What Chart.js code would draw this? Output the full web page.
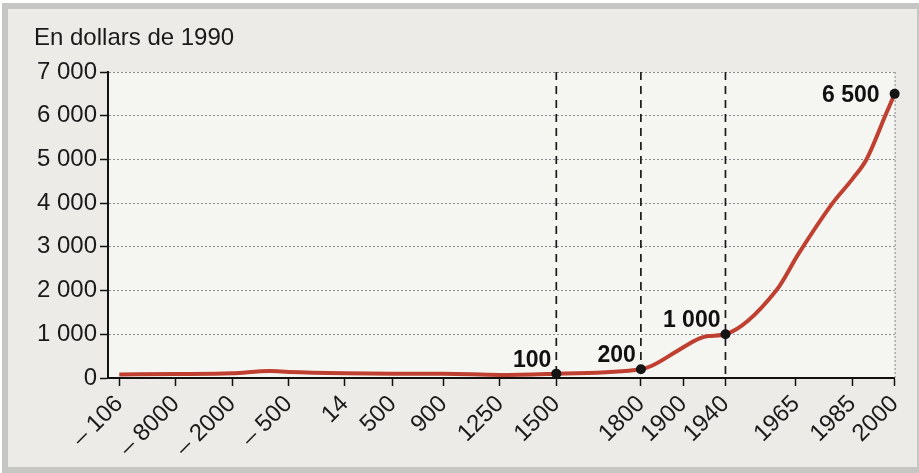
<!DOCTYPE html>
<html>
<head>
<meta charset="utf-8">
<script src="https://cdn.jsdelivr.net/npm/chart.js@4"></script>
<style>
  html, body { margin: 0; padding: 0; background: #fff; }
  #wrap { width: 919px; height: 473px; }
</style>
</head>
<body>
<div id="wrap"><canvas id="chart" width="919" height="473"></canvas></div>
<script>
// axis ticks (years) and their slot on the hand-drawn, uneven x axis
var tickLabels = ['\u2013 106', '\u2013 8000', '\u2013 2000', '\u2013 500', '14', '500', '900', '1250', '1500', '1800', '1900', '1940', '1965', '1985', '2000'];
var tickYears = [-1000000, -8000, -2000, -500, 14, 500, 900, 1250, 1500, 1800, 1900, 1940, 1965, 1985, 2000];
var tickSlots = [0, 1, 2, 3, 4, 4.85, 5.75, 6.75, 7.75, 9.25, 10, 10.75, 12, 13, 13.75];

// PIB par habitant, en dollars de 1990
var years = [-1000000, -8000, -2000, -1000, -500, 14, 500, 900, 1250, 1500, 1800, 1826, 1883, 1915, 1924, 1940, 1958, 1966, 1978, 1985, 1990, 1997, 2000];
var income = [80, 90, 110, 160, 140, 110, 100, 100, 70, 100, 200, 280, 600, 900, 960, 1000, 2000, 2850, 4000, 4550, 5000, 6050, 6500];

// highlighted points
var markYears = [1500, 1800, 1940, 2000];
var markLabels = ['100', '200', '1 000', '6 500'];
var dashedYears = [1500, 1800, 1940];

var yTicks = [0, 1000, 2000, 3000, 4000, 5000, 6000, 7000];

// place a year on the axis between its neighbouring ticks
function slotOf(year) {
    for (var i = 0; i < tickYears.length - 1; i++) {
        if (year >= tickYears[i] && year <= tickYears[i + 1]) {
            var t = (year - tickYears[i]) / (tickYears[i + 1] - tickYears[i]);
            return tickSlots[i] + t * (tickSlots[i + 1] - tickSlots[i]);
        }
    }
    return tickSlots[tickSlots.length - 1];
}

function fmt(v) {
    return String(v).replace(/\B(?=(\d{3})+(?!\d))/g, ' ');
}

var points = years.map(function (y, i) { return { x: slotOf(y), y: income[i], year: y }; });

var FONT = "'Liberation Sans', Arial, sans-serif";

var decor = {
    id: 'decor',
    beforeDraw: function (chart) {
        var ctx = chart.ctx, a = chart.chartArea;
        ctx.save();
        ctx.fillStyle = '#ffffff';
        ctx.fillRect(0, 0, chart.width, chart.height);
        ctx.fillStyle = '#c6c6c4';
        ctx.fillRect(2, 3, chart.width - 2, chart.height - 3);
        ctx.fillStyle = '#ecebe7';
        ctx.fillRect(8, 9, chart.width - 10, chart.height - 15);
        ctx.fillStyle = '#f5f5f2';
        ctx.fillRect(a.left, a.top, a.right - a.left, a.bottom - a.top);

        ctx.fillStyle = '#1a1a1a';
        ctx.font = '24px ' + FONT;
        ctx.textBaseline = 'alphabetic';
        ctx.textAlign = 'left';
        ctx.fillText('En dollars de 1990', 34, 45);
        ctx.restore();
    },
    beforeDatasetsDraw: function (chart) {
        var ctx = chart.ctx, a = chart.chartArea, xs = chart.scales.x;
        ctx.save();
        // dotted right frame
        ctx.strokeStyle = '#8a8a8a';
        ctx.lineWidth = 1;
        ctx.setLineDash([2, 2]);
        ctx.beginPath();
        ctx.moveTo(a.right + 0.5, a.top);
        ctx.lineTo(a.right + 0.5, a.bottom);
        ctx.stroke();
        // dashed markers
        ctx.strokeStyle = '#1a1a1a';
        ctx.lineWidth = 1.7;
        ctx.setLineDash([8, 6]);
        dashedYears.forEach(function (y) {
            var px = xs.getPixelForValue(slotOf(y));
            ctx.beginPath();
            ctx.moveTo(px, a.top);
            ctx.lineTo(px, a.bottom);
            ctx.stroke();
        });
        ctx.restore();
    },
    afterDatasetsDraw: function (chart) {
        var ctx = chart.ctx, xs = chart.scales.x, ys = chart.scales.y;
        ctx.save();
        ctx.fillStyle = '#111';
        ctx.font = 'bold 23px ' + FONT;
        ctx.textAlign = 'right';
        ctx.textBaseline = 'alphabetic';
        markYears.forEach(function (yr, i) {
            var px = xs.getPixelForValue(slotOf(yr));
            var py = ys.getPixelForValue(income[years.indexOf(yr)]);
            if (i === markYears.length - 1) {
                ctx.fillText(markLabels[i], px - 15, py + 8);
            } else {
                ctx.fillText(markLabels[i], px - 5, py - 7);
            }
        });
        ctx.restore();
    }
};

var ctx = document.getElementById('chart').getContext('2d');

var chart = new Chart(ctx, {
    type: 'line',
    data: {
        datasets: [{
            data: points,
            borderColor: '#bf4030',
            borderWidth: 4,
            cubicInterpolationMode: 'monotone',
            pointRadius: function (c) {
                var p = c.raw;
                return p && markYears.indexOf(p.year) >= 0 ? 5 : 0;
            },
            pointBackgroundColor: '#151515',
            pointBorderColor: '#151515',
            pointBorderWidth: 0,
            clip: false
        }]
    },
    options: {
        responsive: false,
        animation: false,
        events: [],
        layout: { padding: { top: 72, right: 23, left: 0, bottom: 0 } },
        plugins: {
            legend: { display: false },
            tooltip: { enabled: false },
            title: { display: false }
        },
        scales: {
            x: {
                type: 'linear',
                min: -0.2,
                max: 13.75,
                afterBuildTicks: function (scale) {
                    scale.ticks = tickSlots.map(function (v) { return { value: v }; });
                },
                afterFit: function (scale) { scale.height = 95; },
                grid: {
                    drawOnChartArea: false,
                    drawTicks: true,
                    tickLength: 8,
                    tickColor: '#111',
                    tickWidth: 1.5
                },
                border: { display: true, color: '#111', width: 2 },
                ticks: {
                    autoSkip: false,
                    maxRotation: 45,
                    minRotation: 45,
                    padding: 4,
                    color: '#1a1a1a',
                    font: { family: FONT, size: 24 },
                    callback: function (v, i) { return tickLabels[i]; }
                }
            },
            y: {
                min: 0,
                max: 7000,
                afterBuildTicks: function (scale) {
                    scale.ticks = yTicks.map(function (v) { return { value: v }; });
                },
                afterFit: function (scale) { scale.width = 108; },
                grid: {
                    color: '#8c8c8c',
                    lineWidth: 1,
                    tickLength: 8,
                    tickColor: '#111',
                    tickWidth: 1.5,
                    tickBorderDash: []
                },
                border: { display: true, color: '#111', width: 2, dash: [2, 2] },
                ticks: {
                    padding: 3,
                    color: '#1a1a1a',
                    font: { family: FONT, size: 24 },
                    callback: function (v) { return fmt(v); }
                }
            }
        }
    },
    plugins: [decor]
});
</script>
</body>
</html>
